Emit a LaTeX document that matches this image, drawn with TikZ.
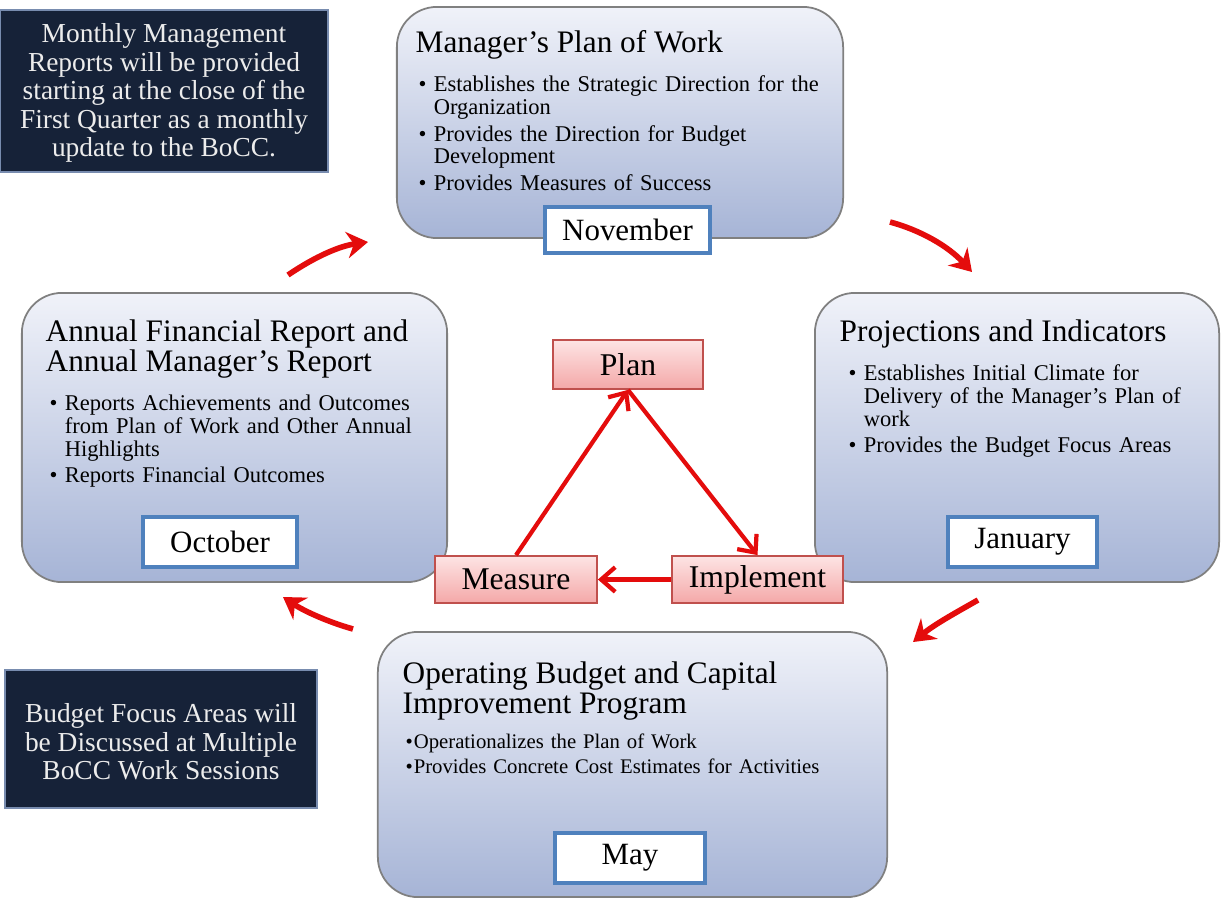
\documentclass[tikz,border=0pt]{standalone}
\usepackage{fontspec}
\setmainfont{Liberation Serif}
\usepackage{tikz}
\usetikzlibrary{arrows.meta}

\definecolor{navy}{RGB}{22,34,56}
\definecolor{noteline}{RGB}{120,140,175}
\definecolor{notetext}{RGB}{236,236,236}
\definecolor{stagetop}{RGB}{240,242,249}
\definecolor{stagebot}{RGB}{166,180,214}
\definecolor{stageline}{RGB}{128,128,128}
\definecolor{tagline}{RGB}{79,129,189}
\definecolor{pdcatop}{RGB}{253,228,228}
\definecolor{pdcabot}{RGB}{244,168,168}
\definecolor{pdcaline}{RGB}{192,80,77}
\definecolor{arrowred}{RGB}{228,12,12}

% bullet with hanging indent
\newcommand{\bul}[1][4.3pt]{\par\hangindent=#1\hangafter=1\noindent\makebox[#1][l]{\textbullet}}

\begin{document}
\begin{tikzpicture}[x=0.01cm,y=-0.01cm,
  stage/.style={draw=stageline,line width=0.5pt,rounded corners=0.4cm,top color=stagetop,bottom color=stagebot},
  sthead/.style={anchor=north west,inner sep=0,align=left,font={\fontsize{8.9}{8.6}\selectfont}},
  stitems/.style={anchor=north west,inner sep=0,text width=4.6cm,align=left,font={\fontsize{6.4}{6.5}\selectfont\setlength{\parskip}{1.1pt}}},
  monthtag/.style={draw=tagline,line width=1.1pt,fill=white,inner sep=0,font={\fontsize{8.8}{9}\selectfont}},
  notebox/.style={draw=noteline,line width=0.6pt,fill=navy,inner sep=0},
  notetxt/.style={text=notetext,align=center,inner sep=0,font={\fontsize{7.8}{8.1}\selectfont}},
  pdca/.style={draw=pdcaline,line width=0.5pt,top color=pdcatop,bottom color=pdcabot,inner sep=0,font={\fontsize{9}{9}\selectfont}},
  tri/.style={draw=arrowred,line width=1.2pt,-{Straight Barb[length=4pt,width=7pt]}},
  cyc/.style={draw=arrowred,line width=1.6pt,-{Stealth[length=6pt,width=7.5pt]}}]
\fill[white] (0,0) rectangle (1221,900);
\useasboundingbox (0,0) rectangle (1221,900);

% the four stages
\node[stage,minimum width=4.46cm,minimum height=2.31cm] (mgr) at (620,122.5) {};
\node[stage,minimum width=4.04cm,minimum height=2.89cm] (proj) at (1017,437.5) {};
\node[stage,minimum width=4.25cm,minimum height=2.89cm] (annual) at (234.5,437.5) {};
\node[stage,minimum width=5.09cm,minimum height=2.65cm] (oper) at (632.5,764.5) {};

\node[sthead] (mgrhead) at (415,30) {Manager's Plan of Work};
\node[stitems] (mgrlist) at (418,64) {\bul Establishes the Strategic Direction for the\newline Organization
  \bul Provides the Direction for Budget\newline Development
  \bul Provides Measures of Success};

\node[sthead] (projhead) at (839,319) {Projections and Indicators};
\node[stitems] (projlist) at (848,353) {\bul Establishes Initial Climate for\newline Delivery of the Manager's Plan of\newline work
  \bul Provides the Budget Focus Areas};

\node[sthead] (annualhead) at (45,319) {Annual Financial Report and\\Annual Manager's Report};
\node[stitems] (annuallist) at (49,383) {\bul Reports Achievements and Outcomes\newline from Plan of Work and Other Annual\newline Highlights
  \bul Reports Financial Outcomes};

\node[sthead] (operhead) at (402,661) {Operating Budget and Capital\\Improvement Program};
\node[stitems,font={\fontsize{5.9}{7.1}\selectfont}] (operlist) at (405,723) {\bul[2.3pt]Operationalizes the Plan of Work
  \bul[2.3pt]Provides Concrete Cost Estimates for Activities};

% months
\node[monthtag,minimum width=1.65cm,minimum height=0.46cm] (nov) at (627.5,230) {November};
\node[monthtag,minimum width=1.49cm,minimum height=0.50cm] (jan) at (1022.5,542) {January};
\node[monthtag,minimum width=1.54cm,minimum height=0.50cm] (oct) at (220,542) {October};
\node[monthtag,minimum width=1.50cm,minimum height=0.50cm] (may) at (630,858) {May};

% notes
\node[notebox,minimum width=3.28cm,minimum height=1.62cm] (monthly) at (164,91) {};
\node[notetxt] (monthlytxt) at (164,93)
  {Monthly Management\\Reports will be provided\\starting at the close of the\\First Quarter as a monthly\\update to the BoCC.};
\node[notebox,minimum width=3.12cm,minimum height=1.38cm] (focus) at (161,739) {};
\node[notetxt,font={\fontsize{7.8}{6.9}\selectfont}] (focustxt) at (161,742)
  {Budget Focus Areas will\\be Discussed at Multiple\\BoCC Work Sessions};

% plan - implement - measure
\node[pdca,minimum width=1.50cm,minimum height=0.49cm] (plan) at (628,364.5) {Plan};
\node[pdca,minimum width=1.62cm,minimum height=0.47cm] (measure) at (516,579.5) {Measure};
\node[pdca,minimum width=1.71cm,minimum height=0.47cm] (implement) at (757.5,579.5) {Implement};
\draw[tri] (plan.south) -- (implement.north);
\draw[tri] (implement.west) -- (measure.east);
\draw[tri] (measure.north) -- (plan.south);

% cycle arrows
\coordinate (a1) at (288,275); \coordinate (b1) at (368,242);
\coordinate (a2) at (890,222); \coordinate (b2) at (972,272);
\coordinate (a3) at (978,600); \coordinate (b3) at (913,642);
\coordinate (a4) at (353,629); \coordinate (b4) at (283,597);
\draw[cyc] (a1) .. controls (316,256) and (340,246) .. (b1);
\draw[cyc] (a2) .. controls (920,230) and (948,246) .. (b2);
\draw[cyc] (a3) .. controls (957,612) and (935,624) .. (b3);
\draw[cyc] (a4) .. controls (328,622) and (304,611) .. (b4);
\end{tikzpicture}
\end{document}
